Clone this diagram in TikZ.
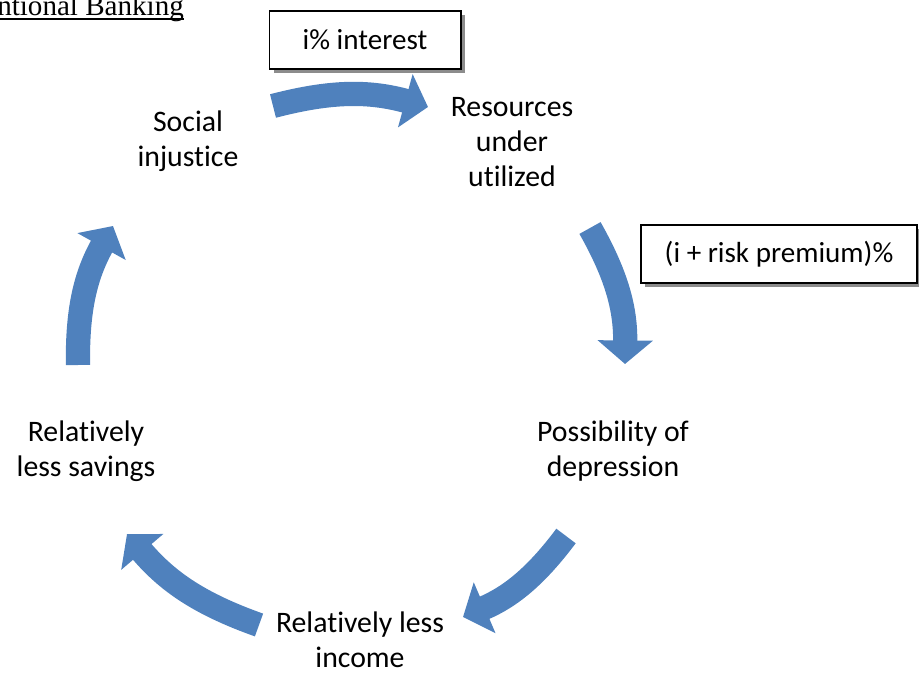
\documentclass[tikz,border=0pt]{standalone}
\usepackage{fontspec}
\setmainfont{Carlito}[Ligatures=NoCommon]
\newfontfamily\titlefont{Liberation Serif}
\usetikzlibrary{arrows.meta, shadows}
\definecolor{cycleblue}{RGB}{79,129,189}
\tikzstyle{stage} = [align=center, inner sep=0pt, font=\fontsize{21.5}{25}\selectfont]
\tikzstyle{rate} = [rectangle, draw=black, line width=1.4pt, fill=white, minimum height=42pt, text centered, font=\fontsize{21}{24}\selectfont, drop shadow={shadow xshift=3pt, shadow yshift=-3pt, fill=black!45, opacity=1}]
\tikzstyle{flow} = [draw=cycleblue, line width=17.5pt, -{Triangle[width=39pt,length=17pt]}, bend left=15]

\begin{document}
\begin{tikzpicture}[x=0.01in, y=0.01in]
    \useasboundingbox (0,0) rectangle (919,-675);

    \node [anchor=base west, inner sep=0pt, font=\titlefont\fontsize{21}{24}\selectfont] at (-3,-16) (title) {ntional Banking};
    \draw [line width=1.3pt] ([yshift=-2.2pt]title.base west) -- ([yshift=-2.2pt]title.base east);

    \node [stage] at (188,-141) (social) {Social\\injustice};
    \node [stage] at (512,-142) (resources) {Resources\\under\\utilized};
    \node [stage] at (613,-451) (depression) {Possibility of\\depression};
    \node [stage] at (360,-640) (income) {Relatively less\\income};
    \node [stage] at (86,-451) (savings) {Relatively\\less savings};

    \node [rate, minimum width=138pt] at (365,-40) (interest) {i\% interest};
    \node [rate, minimum width=199pt] at (779,-254) (premium) {(i + risk premium)\%};

    % ends of the block arrows
    \coordinate (s1) at (273,-106);
    \coordinate (t1) at (428,-107);
    \coordinate (s2) at (590,-228);
    \coordinate (t2) at (625,-364);
    \coordinate (s3) at (566,-536);
    \coordinate (t3) at (463,-617);
    \coordinate (s4) at (259,-625);
    \coordinate (t4) at (127,-534);
    \coordinate (s5) at (78,-365);
    \coordinate (t5) at (113,-226);

    \draw [flow] (s1) to (t1);
    \draw [flow] (s2) to (t2);
    \draw [flow] (s3) to (t3);
    \draw [flow] (s4) to (t4);
    \draw [flow] (s5) to (t5);
\end{tikzpicture}
\end{document}
